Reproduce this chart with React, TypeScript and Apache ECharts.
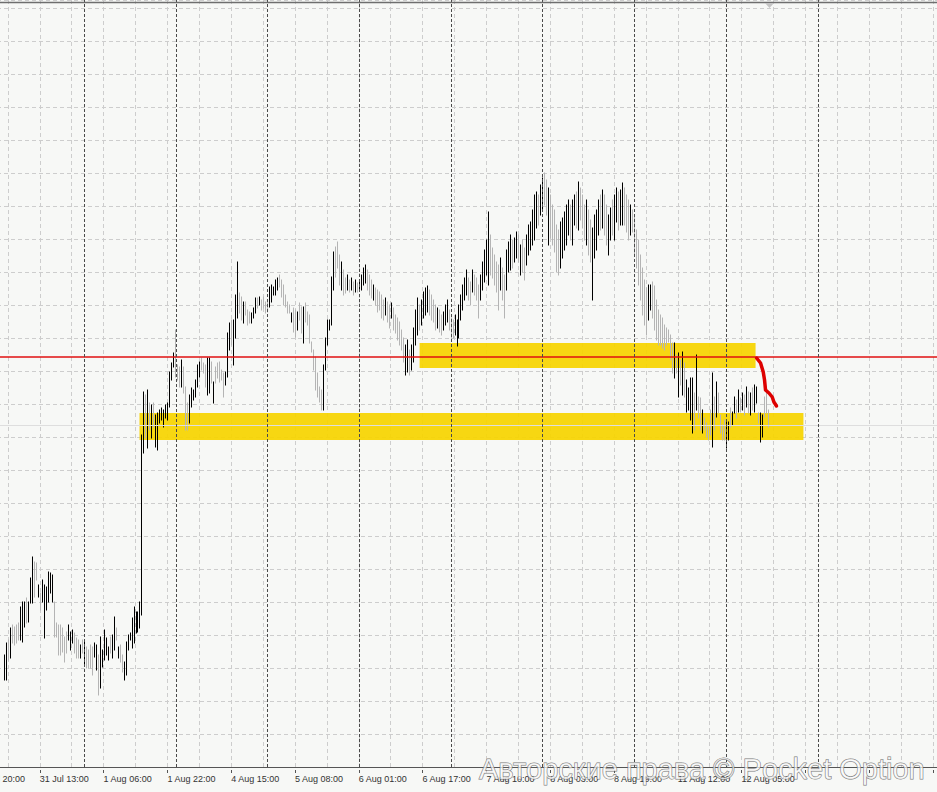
import React, { useEffect, useRef } from "react";
import * as echarts from "echarts";

// Time axis: one unit = one bar; 0 = "30 Jul 20:00"
const tickLabels = [
  "30 Jul 20:00", "31 Jul 13:00", "1 Aug 06:00", "1 Aug 22:00", "4 Aug 15:00",
  "5 Aug 08:00", "6 Aug 01:00", "6 Aug 17:00", "7 Aug 10:00", "8 Aug 03:00",
  "8 Aug 19:00", "11 Aug 12:00", "12 Aug 05:00",
];
const FIRST_BAR = 14;
const AXIS_END = 482;

const highs = [
  112,124,127,139,142,140,142,144,160,165,
  165,169,165,189,210,205,204,182,174,187,
  182,180,195,194,192,165,144,142,142,139,
  130,135,142,135,137,134,129,127,122,127,
  127,120,117,122,120,124,122,112,130,117,
  137,129,120,130,132,150,139,120,122,112,
  105,125,132,134,149,160,155,155,165,332,
  375,372,377,364,362,364,352,354,357,359,
  357,362,364,395,404,414,437,402,400,407,
  400,380,364,372,379,377,387,402,405,409,
  404,402,409,409,405,385,400,404,405,397,
  394,395,434,444,447,447,472,505,474,470,
  465,465,457,455,454,459,469,469,470,467,
  470,465,467,480,482,480,487,489,492,487,
  482,472,465,462,454,459,457,455,464,460,
  460,464,455,452,425,417,410,394,380,377,
  402,429,447,447,490,515,520,525,512,505,
  497,489,492,487,489,485,487,484,487,492,
  499,502,497,492,487,482,479,477,475,472,
  467,469,465,462,464,459,452,449,445,437,
  429,422,427,417,422,439,457,469,462,467,
  475,479,481,477,472,467,462,459,457,452,
  455,462,467,457,449,447,452,447,462,472,
  482,489,497,489,485,497,492,489,482,492,
  505,517,527,555,532,519,512,505,502,509,
  499,492,517,525,532,527,529,535,532,522,
  527,519,532,542,545,557,572,575,572,582,
  589,594,587,579,572,562,557,542,537,545,
  549,555,562,567,562,567,572,575,585,579,
  572,562,567,557,547,539,552,557,567,572,
  577,572,562,552,559,567,572,579,575,577,
  584,579,572,567,562,557,552,537,527,512,
  499,487,479,482,482,485,481,467,457,452,
  449,442,439,437,432,424,424,412,414,407,
  415,404,387,379,389,389,374,412,370,369,
  357,349,344,340,357,394,370,385,374,352,
  342,347,345,345,359,355,370,367,377,369,
  374,372,380,375,374,379,382,380,354,354,
  352,370,374,357,
];

const lows = [
  87,87,107,109,124,122,124,127,127,125,
  140,144,145,164,164,170,187,170,157,165,
  129,157,165,174,165,130,130,112,112,115,
  105,114,127,117,124,114,109,109,109,114,
  102,99,99,99,92,110,97,72,79,100,
  107,112,107,114,109,117,127,109,105,95,
  87,92,117,127,119,124,134,135,139,152,
  314,329,319,337,329,340,320,317,344,347,
  340,349,347,360,387,400,390,387,380,380,
  374,337,337,344,360,367,370,380,390,397,
  394,380,372,374,384,364,384,389,385,387,
  370,382,390,417,422,402,429,449,454,447,
  444,452,442,444,444,449,454,459,462,457,
  459,454,455,460,465,472,472,477,480,470,
  462,460,454,454,445,435,430,437,447,434,
  424,445,442,424,415,397,377,370,365,357,
  357,397,422,437,442,477,490,499,482,477,
  472,474,477,475,477,472,475,475,477,477,
  482,484,477,472,469,467,462,455,457,449,
  447,452,445,439,449,437,434,427,422,417,
  405,392,395,392,397,405,422,432,437,442,
  449,452,455,452,447,445,437,439,435,432,
  437,442,445,437,427,429,432,421,429,447,
  457,467,472,467,462,475,472,467,449,467,
  477,485,492,482,492,489,482,475,457,477,
  467,449,477,495,497,499,505,509,505,492,
  495,487,502,512,517,522,527,539,542,552,
  557,562,552,522,529,522,515,495,492,499,
  509,517,522,532,527,522,542,539,537,547,
  539,527,522,512,505,467,509,517,532,537,
  539,532,522,512,527,532,527,545,537,542,
  542,542,535,527,532,535,512,499,482,467,
  452,442,432,447,457,449,437,427,422,422,
  419,417,422,425,407,394,389,394,370,382,
  372,370,355,357,347,334,337,357,349,337,
  334,337,330,327,332,320,337,350,354,334,
  327,327,319,327,340,342,354,349,355,355,
  357,352,360,354,352,357,355,364,344,325,
  330,350,354,340,
];

// u = up bar (black), d = down bar (grey)
const dirs = (
  "uududddduu uduuuddudu uuuuuddddd dduuudddud udddduuduu " +
  "uuuduududd uuuuuuuuuu udududuuuu uuuuuudddu ddduuuuuud " +
  "dduududddd duuuduuudd uddduuudud ddduuuuudd dddduddudd " +
  "uddddddddd uuuuuudddu ddudududuu uudddudddd dudduddddd " +
  "duuduuuudu uuuddddudd uuuddduuuu uuuddudddu uuuudddddu " +
  "dduuuduudu dduuuuuudu uddudddddu uuuuduudud ddudduuuud " +
  "udduuduudu uddduddddd ddduuddddd ddddddudud uduuuududd " +
  "uddddududd dduuduudud udududuudu uddd"
).replace(/\s/g, "");

const sessionBreaks = [54.25, 100.25, 146.25, 192.25, 238.25, 284.25, 330.25, 376.25, 422.25];

const lowerZone = { from: 82, to: 415, low: 327, high: 354 };
const upperZone = { from: 222.5, to: 391, low: 399, high: 424 };
const redLevel = 410;
const greyLevel = 342;

const drawnX = [391.5, 393.5, 394.85, 395.5, 396, 397.7, 399.35, 400.2, 401.5];
const drawnY = [409, 404, 395, 387, 377, 374, 370, 365, 361];

const watermark = "Авторские права © Pocket Option";

// the chart canvas starts 27px left of the page so that bar 0 of the axis sits off-screen
const SHIFT = 27;

export default function App() {
  const ref = useRef<HTMLDivElement>(null);

  useEffect(() => {
    document.body.style.margin = "0";
    document.body.style.overflow = "hidden";
    if (!ref.current) return;
    const chart = echarts.init(ref.current, null, { renderer: "svg" });

    const bars = highs.map((h, i) => [FIRST_BAR + i, lows[i], h, dirs[i] === "u" ? 1 : 0]);
    const drawn = drawnX.map((x, i) => [x, drawnY[i]]);

    const renderItem = (params: any, api: any) => {
      const x = api.value(0);
      const lo = api.coord([x, api.value(1)]);
      const hi = api.coord([x, api.value(2)]);
      const px = Math.round(lo[0]) + 0.5;
      return {
        type: "line",
        shape: { x1: px, y1: lo[1] + 0.5, x2: px, y2: hi[1] - 0.5 },
        style: { stroke: api.value(3) ? "#000000" : "#b4b4b4", lineWidth: 1 },
      };
    };

    const levelRender = (params: any, api: any) => {
      const a = api.coord([0, api.value(0)]);
      const b = api.coord([AXIS_END, api.value(0)]);
      const red = api.value(1) === 1;
      const y = red ? a[1] : Math.round(a[1]) + 0.5;
      return {
        type: "line",
        shape: { x1: a[0], y1: y, x2: b[0], y2: y },
        style: { stroke: red ? "#e01010" : "#dedede", lineWidth: red ? 1.4 : 1 },
      };
    };

    const option: any = {
      animation: false,
      backgroundColor: "#f7f8f6",
      grid: { left: 0, right: 0, top: 0, bottom: 25, containLabel: false },
      xAxis: [
        {
          type: "value",
          min: 0,
          max: AXIS_END,
          interval: 16,
          position: "bottom",
          offset: 3,
          axisLine: { show: true, lineStyle: { color: "#555555", width: 1 } },
          axisTick: { show: false },
          axisLabel: { show: false },
          splitLine: { show: true, lineStyle: { color: "#cdcdcd", type: [4, 3], width: 1 } },
        },
        {
          type: "value",
          min: 0,
          max: AXIS_END,
          interval: 32,
          position: "bottom",
          offset: 3,
          axisLine: { show: false },
          axisTick: { show: true, length: 3, lineStyle: { color: "#555555" } },
          splitLine: { show: false },
          axisLabel: {
            show: true,
            align: "left",
            margin: 4,
            fontSize: 9,
            fontFamily: "Liberation Sans",
            color: "#333333",
            showMinLabel: true,
            showMaxLabel: false,
            hideOverlap: false,
            formatter: (v: number) => (v % 32 === 0 ? tickLabels[v / 32] || "" : ""),
          },
        },
      ],
      yAxis: {
        type: "value",
        min: 0,
        max: 767,
        interval: 33,
        axisLine: { show: false },
        axisTick: { show: false },
        axisLabel: { show: false },
        splitLine: { show: true, lineStyle: { color: "#cdcdcd", type: [4, 3], width: 1 } },
      },
      series: [
        {
          type: "line",
          data: [],
          z: 1,
          silent: true,
          markArea: {
            silent: true,
            itemStyle: { color: "rgba(246,212,0,0.93)" },
            data: [lowerZone, upperZone].map((zn) => [
              { xAxis: zn.from, yAxis: zn.low },
              { xAxis: zn.to, yAxis: zn.high },
            ]),
          },
        },
        {
          type: "line",
          data: [],
          z: 2,
          silent: true,
          markLine: {
            silent: true,
            symbol: "none",
            label: { show: false },
            emphasis: { disabled: true },
            data: sessionBreaks.map((v) => ({
              xAxis: v,
              lineStyle: { color: "#4a4a4a", type: [3, 2], width: 1 },
            })),
          },
        },
        {
          type: "custom",
          z: 4,
          silent: true,
          renderItem: levelRender,
          encode: { y: 0 },
          data: [
            [greyLevel, 0],
            [redLevel, 1],
          ],
        },
        {
          type: "custom",
          z: 3,
          silent: true,
          renderItem,
          encode: { x: 0, y: [1, 2] },
          data: bars,
        },
        {
          type: "line",
          z: 5,
          silent: true,
          data: drawn,
          symbol: "none",
          color: "#dd0000",
          lineStyle: { color: "#dd0000", width: 3.5, cap: "round", join: "round" },
        },
      ],
      graphic: [
        {
          type: "line",
          z: 50,
          shape: { x1: SHIFT, y1: 2.5, x2: SHIFT + 937, y2: 2.5 },
          style: { stroke: "#6e6e6e", lineWidth: 1.5 },
        },
        {
          type: "polygon",
          z: 50,
          shape: { points: [[SHIFT + 765, 3], [SHIFT + 774, 3], [SHIFT + 769.5, 8]] },
          style: { fill: "#c4c4c4" },
        },
        {
          type: "text",
          z: 100,
          x: SHIFT + 479,
          y: 768.5,
          style: {
            text: watermark,
            fontSize: 29,
            fontFamily: "Liberation Sans",
            align: "left",
            verticalAlign: "middle",
            fill: "rgba(255,255,255,0.72)",
            stroke: "rgba(95,95,95,0.85)",
            lineWidth: 1,
          },
        },
      ],
    };

    chart.setOption(option);
    return () => chart.dispose();
  }, []);

  return (
    <div
      ref={ref}
      style={{ position: "fixed", left: -SHIFT, top: 0, width: 937 + SHIFT, height: 792 }}
    />
  );
}
